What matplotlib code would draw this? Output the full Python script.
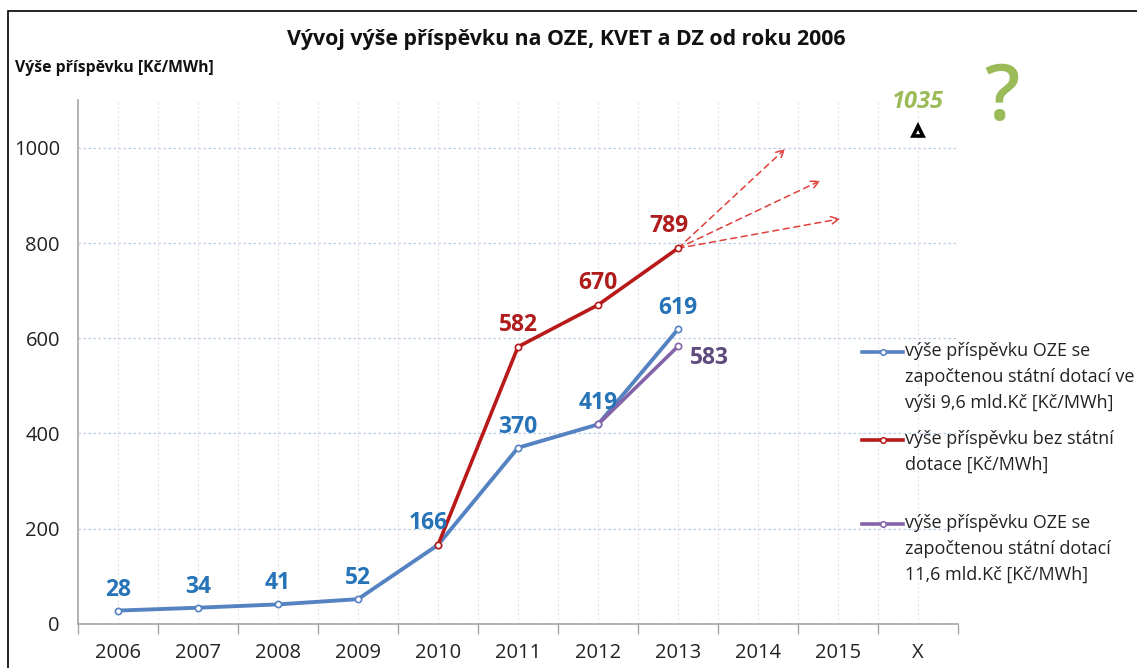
import matplotlib
matplotlib.use("Agg")
import matplotlib.pyplot as plt
from matplotlib.lines import Line2D
from matplotlib.patches import Rectangle
from matplotlib.ticker import FixedLocator, NullFormatter

plt.rcParams["font.family"] = ["Open Sans", "DejaVu Sans"]

# ---------------------------------------------------------------------------
# Data
# ---------------------------------------------------------------------------
categories = ["2006", "2007", "2008", "2009", "2010", "2011", "2012",
              "2013", "2014", "2015", "X"]

blue_idx = [0, 1, 2, 3, 4, 5, 6, 7]
blue_vals = [28, 34, 41, 52, 166, 370, 419, 619]

red_idx = [4, 5, 6, 7]
red_vals = [166, 582, 670, 789]

purple_idx = [6, 7]
purple_vals = [419, 583]

x_point_idx = 10
x_point_val = 1035

# dashed "trend" arrows starting at the last red point
arrow_x = [8.34, 8.78, 9.03]
arrow_y = [998, 931, 851]

legend_labels = [
    "výše příspěvku OZE se\nzapočtenou státní dotací ve\nvýši 9,6 mld.Kč [Kč/MWh]",
    "výše příspěvku bez státní\ndotace [Kč/MWh]",
    "výše příspěvku OZE se\nzapočtenou státní dotací\n11,6 mld.Kč [Kč/MWh]",
]

BLUE = "#5583c2"
BLUE_TXT = "#2673b8"
RED = "#b81a1a"
RED_TXT = "#b01c1c"
PURPLE = "#8464a8"
PURPLE_TXT = "#5e4a7c"
GREEN = "#9bbb59"

# ---------------------------------------------------------------------------
# Figure
# ---------------------------------------------------------------------------
fig = plt.figure(figsize=(11.37, 6.68), dpi=100)
ax = fig.add_axes([0.0686, 0.066, 0.774, 0.784])

# frame around the whole picture (only top/left visible)
fig.add_artist(Rectangle((8 / 1137, -0.1), 1.2, (668 - 11) / 668 + 0.1,
                         transform=fig.transFigure, fill=False,
                         edgecolor="black", linewidth=1.2))

ax.set_xlim(-0.5, 10.5)
ax.set_ylim(0, 1100)

# grid: horizontal dashed light blue, vertical very faint at centres + bounds
ax.set_yticks([0, 200, 400, 600, 800, 1000])
ax.yaxis.grid(True, linestyle=(0, (2, 2)), color="#b8cce4", linewidth=0.9)
ax.set_xticks(range(len(categories)))
ax.set_xticklabels(categories)
ax.xaxis.set_minor_locator(FixedLocator([i - 0.5 for i in range(len(categories) + 1)]))
ax.xaxis.set_minor_formatter(NullFormatter())
ax.xaxis.grid(True, which="both", linestyle=(0, (2, 2)), color="#e6e6e6",
              linewidth=0.8)
ax.set_axisbelow(True)

ax.tick_params(axis="x", which="major", length=0, pad=14, labelsize=14.5,
               colors="#222222")
ax.tick_params(axis="x", which="minor", length=7, width=1, color="#a6a6a6",
               direction="out")
ax.tick_params(axis="y", length=0, pad=13, labelsize=14.5, colors="#222222")
for side in ["top", "right"]:
    ax.spines[side].set_visible(False)
ax.spines["left"].set_color("#a6a6a6")
ax.spines["bottom"].set_color("#a6a6a6")
ax.spines["left"].set_linewidth(1.2)
ax.spines["bottom"].set_linewidth(1.2)

mk = dict(marker="o", markersize=4.5, markerfacecolor="white",
          markeredgewidth=1.2)
ax.plot(blue_idx, blue_vals, color=BLUE, linewidth=2.8,
        markeredgecolor=BLUE, **mk, zorder=3)
ax.plot(red_idx, red_vals, color=RED, linewidth=2.6,
        markeredgecolor=RED, **mk, zorder=4)
ax.plot(purple_idx, purple_vals, color=PURPLE, linewidth=2.6,
        markeredgecolor=PURPLE, **mk, zorder=4)

for ex, ey in zip(arrow_x, arrow_y):
    ax.annotate("", xy=(ex, ey), xytext=(red_idx[-1], red_vals[-1]),
                arrowprops=dict(arrowstyle="->", color="#e0403c", lw=1.1,
                                linestyle=(0, (4, 3)),
                                shrinkA=0, shrinkB=0,
                                mutation_scale=14), zorder=3)

ax.plot([x_point_idx], [x_point_val], marker="^", markersize=7,
        markerfacecolor="white", markeredgecolor="black",
        markeredgewidth=2.6, linestyle="none", zorder=5)

# ---------------------------------------------------------------------------
# Value labels
# ---------------------------------------------------------------------------
lbl = dict(fontsize=16.5, fontweight="bold", ha="center", va="bottom")
for xi, v in zip(blue_idx, blue_vals):
    # the 2010 label sits a bit left and lower, overlapping the red line
    dx, dy = (-10, 10) if xi == 4 else (0, 9)
    ax.annotate(str(v), (xi, v), xytext=(dx, dy),
                textcoords="offset pixels", color=BLUE_TXT, **lbl, zorder=6)
for xi, v in zip(red_idx[1:], red_vals[1:]):
    ax.annotate(str(v), (xi, v), xytext=(-9 if xi == 7 else 0, 10),
                textcoords="offset pixels", color=RED_TXT, **lbl, zorder=6)
ax.annotate(str(purple_vals[-1]), (purple_idx[-1], purple_vals[-1]),
            xytext=(12, -12), textcoords="offset pixels", color=PURPLE_TXT,
            fontsize=16.5, fontweight="bold", ha="left", va="center",
            zorder=6)

ax.annotate(str(x_point_val), (x_point_idx, x_point_val), xytext=(0, 29),
            textcoords="offset pixels", color=GREEN, fontsize=17,
            fontweight="bold", fontstyle="italic", ha="center", va="center")
fig.text(1002 / 1137, 1 - 100 / 668, "?", color=GREEN, fontsize=56,
         fontweight="semibold", ha="center", va="center")

# ---------------------------------------------------------------------------
# Titles
# ---------------------------------------------------------------------------
fig.text(566 / 1137, 1 - 40 / 668,
         "Vývoj výše příspěvku na OZE, KVET a DZ od roku 2006",
         fontsize=15.4, fontweight="bold", ha="center", va="center",
         color="#111111")
fig.text(15 / 1137, 1 - 68 / 668, "Výše příspěvku [Kč/MWh]",
         fontsize=11.3, fontweight="bold", ha="left", va="center",
         color="#111111")

# ---------------------------------------------------------------------------
# Legend (handles aligned with the first text line, like the original)
# ---------------------------------------------------------------------------
leg_colors = [BLUE, RED, PURPLE]
leg_y = [352, 440, 524]
for col, ypx, text in zip(leg_colors, leg_y, legend_labels):
    yf = 1 - ypx / 668
    fig.add_artist(Line2D([862 / 1137, 903 / 1137], [yf, yf],
                          transform=fig.transFigure, color=col,
                          linewidth=2.6))
    fig.add_artist(Line2D([883 / 1137], [yf], transform=fig.transFigure,
                          marker="o", markersize=4, markerfacecolor="white",
                          markeredgecolor=col, markeredgewidth=1.1))
    fig.text(905 / 1137, yf + 10 / 668, text, fontsize=13, ha="left",
             va="top", color="#222222", linespacing=1.56)

fig.savefig("out.png", dpi=100)
